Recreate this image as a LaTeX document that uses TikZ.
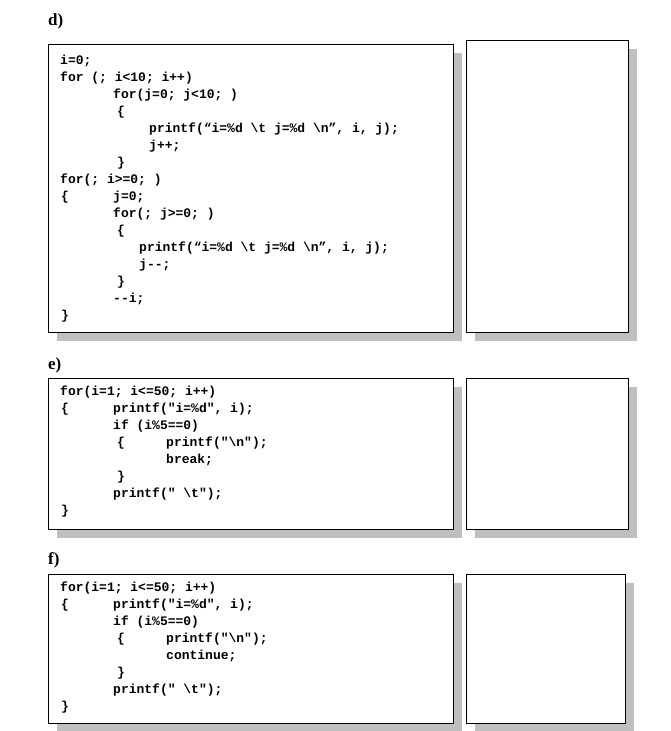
\documentclass[tikz,border=0pt]{standalone}
\usepackage{fontspec}
\newfontfamily\cf{Liberation Mono}[BoldFont={Liberation Mono Bold}]
\newfontfamily\lf{Liberation Serif}
\newcommand{\bs}{\textbackslash}
\begin{document}
\begin{tikzpicture}[x=1pt,y=-1pt,
  codebox/.style={draw=black,line width=0.8pt,fill=white},
  shadowbox/.style={fill=black!25,draw=none},
  code/.style={anchor=base west,inner sep=0pt,font=\cf\bfseries\fontsize{13}{15}\selectfont},
  lab/.style={anchor=base west,inner sep=0pt,font=\lf\bfseries\fontsize{17}{19}\selectfont}]
\useasboundingbox (0,0) rectangle (670,731);
% shadows
\foreach \a/\b/\c/\d in {48/44/453/332,466/40/628/332,48/378/453/529,466/378/628/529,48/574/453/723,466/574/625/723}{
  \fill[black!25] (\a+9,\b+9) rectangle (\c+9,\d+9);
  \draw[codebox] (\a,\b) rectangle (\c,\d);}
\node[lab] (ld) at (48,25) {d)};
\node[lab] (le) at (48,369) {e)};
\node[lab] (lf) at (48,564) {f)};
% d
\node[code] (d1) at (60,64) {i=0;};
\node[code] (d2) at (60,81) {for (; i<10; i++)};
\node[code] (d3) at (113,98) {for(j=0; j<10; )};
\node[code] (d4) at (117,115) {\{};
\node[code] (d5) at (149,132) {printf(“i=\%d \bs t j=\%d \bs n”, i, j);};
\node[code] (d6) at (149,149) {j++;};
\node[code] (d7) at (117,166) {\}};
\node[code] (d8) at (60,183) {for(; i>=0; )};
\node[code] (d9) at (61,200) {\{};
\node[code] (d9b) at (113,200) {j=0;};
\node[code] (d10) at (113,217) {for(; j>=0; )};
\node[code] (d11) at (117,234) {\{};
\node[code] (d12) at (139,251) {printf(“i=\%d \bs t j=\%d \bs n”, i, j);};
\node[code] (d13) at (139,268) {j--;};
\node[code] (d14) at (117,285) {\}};
\node[code] (d15) at (113,302) {--i;};
\node[code] (d16) at (61,319) {\}};
% e and f
\foreach \s/\w/\o in {e/break;/0,f/continue;/196}{
\node[code] (\s1) at (60,395+\o) {for(i=1; i<=50; i++)};
\node[code] (\s2) at (61,412+\o) {\{};
\node[code] (\s2b) at (113,412+\o) {printf("i=\%d", i);};
\node[code] (\s3) at (113,429+\o) {if (i\%5==0)};
\node[code] (\s4) at (117,446+\o) {\{};
\node[code] (\s4b) at (166,446+\o) {printf("\bs n");};
\node[code] (\s5) at (166,463+\o) {\w};
\node[code] (\s6) at (117,480+\o) {\}};
\node[code] (\s7) at (113,497+\o) {printf(" \bs t");};
\node[code] (\s8) at (61,514+\o) {\}};
}
\end{tikzpicture}
\end{document}
